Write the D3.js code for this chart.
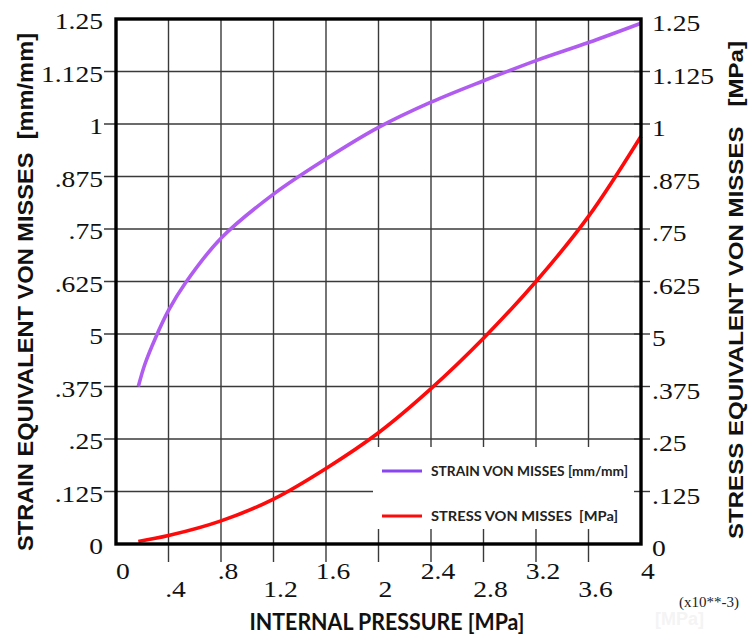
<!DOCTYPE html>
<html>
<head>
<meta charset="utf-8">
<script src="https://cdn.jsdelivr.net/npm/d3@7"></script>
<style>
  html, body { margin: 0; padding: 0; background: #fff; }
  svg { display: block; }
  text { white-space: pre; }
</style>
</head>
<body>
<svg id="chart" width="751" height="634"></svg>
<script>
// ---- data ----
const xTickValues = [0, 0.4, 0.8, 1.2, 1.6, 2.0, 2.4, 2.8, 3.2, 3.6, 4.0];
const xTickLabels = ["0", ".4", ".8", "1.2", "1.6", "2", "2.4", "2.8", "3.2", "3.6", "4"];
const yTickValues = [0, 0.125, 0.25, 0.375, 0.5, 0.625, 0.75, 0.875, 1.0, 1.125, 1.25];
const yTickLabels = ["0", ".125", ".25", ".375", "5", ".625", ".75", ".875", "1", "1.125", "1.25"];

const strainX = [0.17, 0.22, 0.3, 0.4, 0.53, 0.8, 1.2, 1.6, 2.0, 2.4, 2.8, 3.2, 3.6, 4.0];
const strainY = [0.375, 0.428, 0.49, 0.556, 0.622, 0.728, 0.833, 0.917, 0.992, 1.052, 1.103, 1.151, 1.194, 1.24];

const stressX = [0.17, 0.4, 0.8, 1.2, 1.6, 2.0, 2.4, 2.8, 3.2, 3.6, 4.0];
const stressY = [0.006, 0.02, 0.055, 0.107, 0.18, 0.265, 0.37, 0.49, 0.625, 0.78, 0.971];

const seriesNames = ["STRAIN VON MISSES [mm/mm]", "STRESS VON MISSES  [MPa]"];
const seriesColors = ["#b05cf0", "#ff0a0a"];
const legendColors = ["#8a45f2", "#ff0a0a"];

// ---- layout ----
const svg = d3.select("#chart");
const L = 116, R = 641, T = 19, B = 544;
const x = d3.scaleLinear().domain([0, 4]).range([L, R]);
const yL = d3.scaleLinear().domain([0, 1.25]).range([B, T]);
const yR = d3.scaleLinear().domain([0, 1.25]).range([B, T]);

const gridColor = "#3a3a3a";

// vertical grid (extends below axis as ticks)
svg.append("g").selectAll("line")
  .data(xTickValues.filter(v => v > 0 && v < 4))
  .join("line")
  .attr("x1", d => x(d)).attr("x2", d => x(d))
  .attr("y1", T).attr("y2", B + 18)
  .attr("stroke", gridColor).attr("stroke-width", 1.4);

// horizontal grid + left ticks
svg.append("g").selectAll("line")
  .data(yTickValues.filter(v => v > 0 && v < 1.25))
  .join("line")
  .attr("x1", L - 12).attr("x2", R)
  .attr("y1", d => yL(d)).attr("y2", d => yL(d))
  .attr("stroke", gridColor).attr("stroke-width", 1.4);

// legend box (covers grid)
svg.append("rect")
  .attr("x", 373).attr("y", 447).attr("width", R - 373).attr("height", 82)
  .attr("fill", "#fff");

// right ticks (cross the right axis)
svg.append("g").selectAll("line")
  .data(yTickValues.filter(v => v > 0 && v < 1.25))
  .join("line")
  .attr("x1", R - 7).attr("x2", R + 9)
  .attr("y1", d => yR(d)).attr("y2", d => yR(d))
  .attr("stroke", gridColor).attr("stroke-width", 1.4);

// curves
const strainData = strainX.map((v, i) => [v, strainY[i]]);
const stressData = stressX.map((v, i) => [v, stressY[i]]);
const lineL = d3.line().x(d => x(d[0])).y(d => yL(d[1])).curve(d3.curveCatmullRom.alpha(0.5));
const lineR = d3.line().x(d => x(d[0])).y(d => yR(d[1])).curve(d3.curveCatmullRom.alpha(0.5));

svg.append("path").datum(strainData).attr("d", lineL)
  .attr("fill", "none").attr("stroke", seriesColors[0]).attr("stroke-width", 3.6)
  .attr("stroke-linecap", "butt");
svg.append("path").datum(stressData).attr("d", lineR)
  .attr("fill", "none").attr("stroke", seriesColors[1]).attr("stroke-width", 3.6)
  .attr("stroke-linecap", "butt");

// frame
svg.append("rect")
  .attr("x", L).attr("y", T).attr("width", R - L).attr("height", B - T)
  .attr("fill", "none").attr("stroke", "#000").attr("stroke-width", 3.4);

// tick labels
const serif = "'Liberation Serif', 'Times New Roman', serif";
const sx = 1.15;
svg.append("g").selectAll("text")
  .data(yTickValues)
  .join("text")
  .attr("transform", d => `translate(${L - 13},${yL(d) + 10}) scale(${sx},1)`)
  .attr("text-anchor", "end")
  .attr("font-family", serif).attr("font-size", 24).attr("fill", "#111")
  .text((d, i) => yTickLabels[i]);

svg.append("g").selectAll("text")
  .data(yTickValues)
  .join("text")
  .attr("transform", d => `translate(${R + 11},${yR(d) + 12}) scale(${sx},1)`)
  .attr("text-anchor", "start")
  .attr("font-family", serif).attr("font-size", 24).attr("fill", "#111")
  .text((d, i) => yTickLabels[i]);

svg.append("g").selectAll("text")
  .data(xTickValues)
  .join("text")
  .attr("transform", (d, i) => `translate(${x(d) + 7},${i % 2 === 0 ? 579 : 597}) scale(${sx},1)`)
  .attr("text-anchor", "middle")
  .attr("font-family", serif).attr("font-size", 24).attr("fill", "#111")
  .text((d, i) => xTickLabels[i]);

svg.append("text")
  .attr("x", 709).attr("y", 607)
  .attr("text-anchor", "middle")
  .attr("font-family", serif).attr("font-size", 15).attr("fill", "#222")
  .text("(x10**-3)");

// axis titles
const sans = "'Liberation Sans', Arial, sans-serif";
svg.append("text")
  .attr("transform", "translate(33,292) rotate(-90)")
  .attr("text-anchor", "middle")
  .attr("font-family", sans).attr("font-weight", "bold").attr("font-size", 22)
  .attr("textLength", 518).attr("lengthAdjust", "spacingAndGlyphs")
  .attr("fill", "#111")
  .text("STRAIN EQUIVALENT VON MISSES  [mm/mm]");

svg.append("text")
  .attr("transform", "translate(743,290) rotate(-90)")
  .attr("text-anchor", "middle")
  .attr("font-family", sans).attr("font-weight", "bold").attr("font-size", 21)
  .attr("textLength", 498).attr("lengthAdjust", "spacingAndGlyphs")
  .attr("fill", "#111")
  .text("STRESS EQUIVALENT VON MISSES   [MPa]");

svg.append("text")
  .attr("x", 387).attr("y", 630)
  .attr("text-anchor", "middle")
  .attr("font-family", "Lato, 'Noto Sans', sans-serif").attr("font-weight", "bold").attr("font-size", 23)
  .attr("textLength", 275).attr("lengthAdjust", "spacingAndGlyphs")
  .attr("fill", "#111")
  .text("INTERNAL PRESSURE [MPa]");

// faint ghost label
svg.append("text")
  .attr("x", 655).attr("y", 625)
  .attr("font-family", sans).attr("font-weight", "bold").attr("font-size", 18)
  .attr("fill", "#f4f4f4")
  .text("[MPa]");

// legend
const legY = [471, 516];
const leg = svg.append("g");
seriesNames.forEach((name, i) => {
  leg.append("line")
    .attr("x1", 382).attr("x2", 422)
    .attr("y1", legY[i]).attr("y2", legY[i])
    .attr("stroke", legendColors[i]).attr("stroke-width", 3);
  leg.append("text")
    .attr("x", 431).attr("y", legY[i] + 5)
    .attr("font-family", "Lato, 'Noto Sans', sans-serif").attr("font-weight", "bold").attr("font-size", 13)
    .attr("textLength", i === 0 ? 197 : 187).attr("lengthAdjust", "spacingAndGlyphs")
    .attr("fill", "#222")
    .text(name);
});
</script>
</body>
</html>
